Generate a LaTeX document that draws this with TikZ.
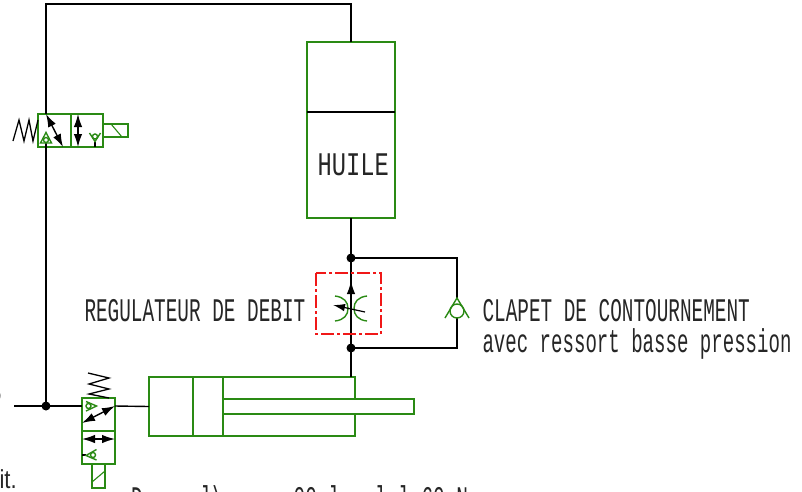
\documentclass[tikz,border=0pt]{standalone}
\usepackage{fontspec}
\usetikzlibrary{arrows.meta}
\newfontfamily\cadfont[FakeStretch=0.587]{Liberation Mono}
\newfontfamily\cadlow[FakeStretch=0.578]{Liberation Mono}
\newfontfamily\cadwide[FakeStretch=0.72]{Liberation Mono}
\newfontfamily\cadprop[FakeStretch=0.85]{Liberation Sans}
\definecolor{hgreen}{HTML}{2A8A14}
\definecolor{hred}{HTML}{F01818}
\tikzset{
  gr/.style={draw=hgreen,line width=1.4pt},
  wire/.style={draw=black,line width=1.4pt},
  box/.style={gr,rectangle,inner sep=0pt,outer sep=0pt,minimum width=#1},
  dotn/.style={circle,fill=black,inner sep=0pt,minimum size=9pt},
  dbl/.style={draw=black,line width=1.4pt,{Latex[length=13pt,width=8.5pt]}-{Latex[length=13pt,width=8.5pt]}},
  sgl/.style={draw=black,line width=1.4pt,-{Latex[length=13pt,width=8.5pt]}},
  lbl/.style={anchor=base west,inner sep=0pt,outer sep=0pt,text=black!85,font=\cadfont\fontsize{33}{33}\selectfont},
  chk/.style={gr,line width=1.4pt,fill=white,circle,inner sep=0pt,minimum size=#1},
}
\begin{document}
\begin{tikzpicture}[x=1pt,y=-1pt,line join=miter]
\useasboundingbox (0,0) rectangle (802,491);
\clip (0,0) rectangle (802,491);
\fill[white] (0,0) rectangle (802,491);
% named points
\coordinate (topleft) at (46,4);
\coordinate (src) at (14,406);
\coordinate (vtopin) at (46,113.5);
\coordinate (vtopout) at (46,147);
\coordinate (cylN) at (351,377);
\coordinate (bypR1) at (457,258);
\coordinate (bypR2) at (457,348);
% tank
\node[box=88pt,minimum height=176pt] (tank) at (351,130) {};
\node[lbl,font=\cadwide\fontsize{33}{33}\selectfont] (huile) at (317.5,175.5) {HUILE};
% cylinder
\node[box=206pt,minimum height=59pt] (cyl) at (252,406.5) {};
\node[box=191pt,minimum height=15pt,fill=white] (rod) at (318.5,406.5) {};
\draw[gr] (193,377) -- (193,436);
\draw[gr] (223,377) -- (223,436);
% top valve
\node[box=33pt,minimum height=33pt] (va) at (54.5,130.5) {};
\node[box=32pt,minimum height=33pt] (vb) at (87,130.5) {};
\node[box=25pt,minimum height=13pt] (vsol) at (115.5,130.5) {};
\draw[gr,line width=1.1pt] (111,124) -- (122,137);
\draw[black,line width=1.3pt] (13,141) -- (19,120) -- (24,141) -- (29,120) -- (33,141) -- (38,120);
% bottom valve
\node[box=33pt,minimum height=33pt] (vc) at (98.5,414.5) {};
\node[box=33pt,minimum height=33pt] (vd) at (98.5,447.5) {};
\node[box=13pt,minimum height=24pt] (vsol2) at (98.5,476) {};
\draw[gr,line width=1.1pt] (92,482) -- (105,471);
\draw[black,line width=1.3pt] (88,373) -- (109,378) -- (89,384) -- (109,389) -- (89,394) -- (109,398);
% wires
\draw[wire] (tank.north) -- (351,4) -- (topleft) -- (vtopin);
\draw[wire] (vtopout) -- (46,406);
\draw[wire] (src) -- (82,406);
\draw[wire] (115,406) -- (cyl.west);
\draw[wire] (tank.south) -- (cylN);
\draw[wire] (351,258) -- (bypR1) -- (457,298);
\draw[wire] (457,318) -- (bypR2) -- (351,348);
\draw[wire] (tank.west |- 0,112) -- (tank.east |- 0,112);
\node[dotn] (j1) at (46,406) {};
\node[dotn] (j2) at (351,258) {};
\node[dotn] (j3) at (351,348) {};
% top valve inner
\draw[dbl] (46,114) -- (63,147);
\draw[dbl] (78,114) -- (78,147);
\draw[wire] (46,143) -- (46,147);
\draw[wire] (95,141.5) -- (95,147);
\draw[gr,fill=white] (40.5,143) -- (46,132.5) -- (51.5,143) -- cycle;
\node[chk=5pt] (ca) at (46,140) {};
\draw[gr,fill=white] (89.5,133) -- (95,141.5) -- (100.5,133);
\node[chk=5pt] (cb) at (95,136.5) {};
% bottom valve inner
\draw[dbl] (115,406) -- (82,423);
\draw[dbl] (82,439) -- (115,439);
\draw[gr,fill=white] (86,401.5) -- (96.5,406) -- (86,411);
\node[chk=5pt] (cc) at (88.5,406) {};
\draw[wire] (82,455) -- (86,455);
\draw[gr,fill=white] (96.5,449.5) -- (86,455.5) -- (96.5,460);
\node[chk=5pt] (cd) at (93,455) {};
% bypass check valve
\node[chk=14pt] (cv) at (457,311) {};
\draw[gr] (445,318) -- (457,298) -- (469,318);
% flow regulator
\draw[hred,line width=1.3pt,dash pattern=on 13pt off 3pt on 3pt off 3pt] (316,273) rectangle (381,334);
\draw[gr] (335,296) .. controls (344,297) and (348,302) .. (348,308.5) .. controls (348,315) and (344,320) .. (335,321);
\draw[gr] (367,296) .. controls (358,297) and (354,302) .. (354,308.5) .. controls (354,315) and (358,320) .. (367,321);
\draw[sgl] (351,300) -- (351,281);
\draw[draw=black,line width=1.2pt,-{Latex[length=12pt,width=7.5pt]}] (365,312) -- (333,305);
% texts
\node[lbl] (t1) at (84.5,321) {REGULATEUR DE DEBIT};
\node[lbl] (t2) at (482.5,321) {CLAPET DE CONTOURNEMENT};
\node[lbl,font=\cadlow\fontsize{33}{33}\selectfont] (t3) at (482.5,352) {avec ressort basse pression};
\node[lbl,font=\cadprop\fontsize{26}{26}\selectfont] (t4) at (-0.5,488) {it.};
\node[lbl] (t5) at (-9.5,412) {?};
\node[lbl] (t6) at (131,509) {D~~~~~l\textbackslash~~~~~~00~l~~~l~l~60~N};
\end{tikzpicture}
\end{document}
